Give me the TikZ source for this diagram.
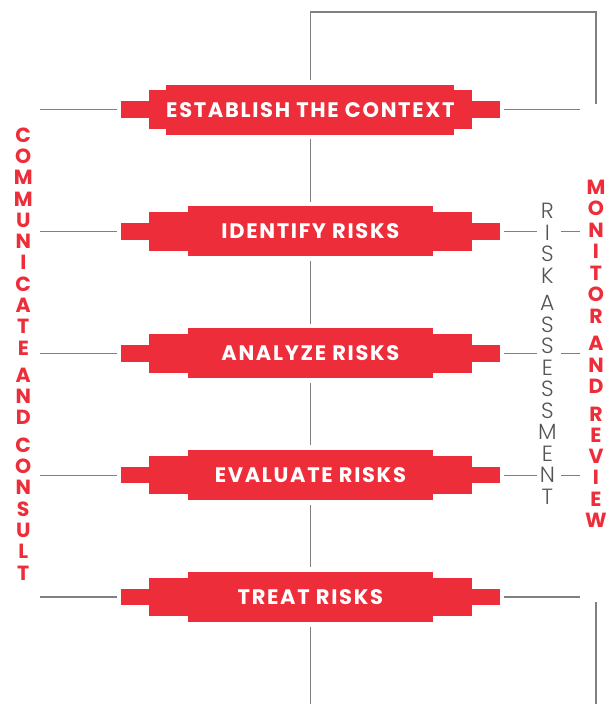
\documentclass[tikz,border=0pt]{standalone}
\usepackage{fontspec}
\setmainfont{Poppins}
\newfontfamily\boxfont[LetterSpace=8]{Poppins Bold}
\newfontfamily\sidefont{Poppins Bold}
\newfontfamily\thinfont{Poppins Light}
\definecolor{riskred}{HTML}{EE2D3A}
\definecolor{linegray}{HTML}{808080}
\definecolor{thingray}{HTML}{555555}
\tikzset{
  tierouter/.style={fill=riskred, draw=none, inner sep=0pt, minimum width=379.3pt, minimum height=16.5pt},
  tiermid/.style={fill=riskred, draw=none, inner sep=0pt, minimum width=322.7pt, minimum height=38.4pt},
  tierinner/.style={fill=riskred, draw=none, inner sep=0pt, minimum width=245pt, minimum height=50pt,
    text=white, font=\boxfont\fontsize{21}{24}\selectfont},
  conn/.style={draw=linegray, line width=1.3pt},
  redlab/.style={inner sep=0pt, text=riskred, font=\sidefont\fontsize{20.5}{24}\selectfont},
  thinlab/.style={inner sep=0pt, text=thingray, font=\thinfont\fontsize{22}{24}\selectfont},
}
\begin{document}
\begin{tikzpicture}[x=1pt, y=-1pt]
\useasboundingbox (0,0) rectangle (614,704);
% boxes
\foreach \k/\yy/\txt in {1/109.6/ESTABLISH THE CONTEXT, 2/231.45/IDENTIFY RISKS, 3/353.3/ANALYZE RISKS, 4/475.15/EVALUATE RISKS, 5/597/TREAT RISKS}{
  \node[tierouter] (b\k o) at (310.35,\yy) {};
  \node[tiermid] (b\k m) at (310.35,\yy) {};
  \node[tierinner] (b\k) at (310.35,\yy) {\txt};
  \coordinate (l\k) at (40,\yy);
  \coordinate (r\k) at (580,\yy);
}
% coordinates
\coordinate (tl) at (310.35,12);
\coordinate (tr) at (596,12);
\coordinate (mt) at (596,104);
\coordinate (mb) at (596,602);
\coordinate (mbot) at (596,704);
\coordinate (bot) at (310.35,704);
\foreach \k/\yy in {2/231.45, 3/353.3, 4/475.15}{
  \coordinate (ra\k) at (537,\yy);
  \coordinate (rb\k) at (561,\yy);
}
% connectors
\draw[conn, shorten <=4.5pt] (b1.north) -- (tl) -- (tr) -- (mt);
\draw[conn, shorten <=4.5pt, shorten >=4.5pt] (b1.south) -- (b2.north);
\draw[conn, shorten <=4.5pt, shorten >=4.5pt] (b2.south) -- (b3.north);
\draw[conn, shorten <=4.5pt, shorten >=4.5pt] (b3.south) -- (b4.north);
\draw[conn, shorten <=4.5pt, shorten >=4.5pt] (b4.south) -- (b5.north);
\draw[conn, shorten <=5pt] (b5.south) -- (bot);
\draw[conn] (mb) -- (mbot);
\foreach \k in {1,...,5}{
  \draw[conn, shorten >=4pt] (l\k) -- (b\k o.west);
}
\draw[conn, shorten <=3.5pt] (b1o.east) -- (r1);
\draw[conn, shorten <=3.5pt] (b5o.east) -- (r5);
\foreach \k in {2,3,4}{
  \draw[conn, shorten <=3.5pt] (b\k o.east) -- (ra\k);
  \draw[conn] (rb\k) -- (r\k);
}
% side labels
\foreach \ch/\yy [count=\i] in {C/135, O/156.3, M/177.6, M/198.9, U/220.2, N/241.5, I/262.8, C/284.1, A/305.4, T/326.7, E/348, A/375, N/396.3, D/417.6, C/445, O/466.3, N/487.6, S/508.9, U/530.2, L/551.5, T/572.8}{
  \node[redlab] (cc\i) at (23.3,\yy) {\ch};
}
\foreach \ch/\yy [count=\i] in {M/187, O/208.5, N/230, I/251.5, T/273, O/294.5, R/316, A/343.5, N/364.8, D/386.1, R/414, E/435.2, V/456.4, I/477.6, E/498.8, W/520}{
  \node[redlab] (mr\i) at (596,\yy) {\ch};
}
\foreach \ch/\yy [count=\i] in {R/211, I/232.5, S/254, K/275.5, A/303, S/324.5, S/346, E/367.5, S/389, S/410.5, M/432, E/453.5, N/475, T/496.5}{
  \node[thinlab] (rl\i) at (547.3,\yy) {\ch};
}
\end{tikzpicture}
\end{document}
